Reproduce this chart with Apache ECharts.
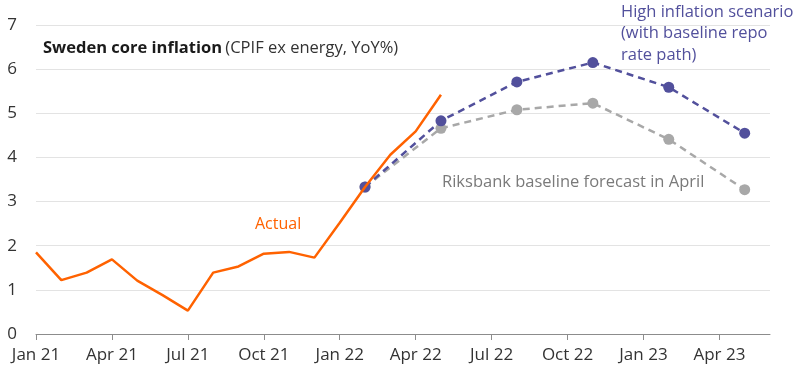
<!DOCTYPE html>
<html><head><meta charset="utf-8">
<script src="https://cdn.jsdelivr.net/npm/echarts@6/dist/echarts.min.js"></script>
<style>html,body{margin:0;padding:0;background:#fff}#c{width:800px;height:368px}</style>
</head><body><div id="c"></div>
<script>
const months = ['Jan 21','Feb 21','Mar 21','Apr 21','May 21','Jun 21','Jul 21','Aug 21','Sep 21','Oct 21','Nov 21','Dec 21',
  'Jan 22','Feb 22','Mar 22','Apr 22','May 22','Jun 22','Jul 22','Aug 22','Sep 22','Oct 22','Nov 22','Dec 22',
  'Jan 23','Feb 23','Mar 23','Apr 23','May 23','Jun 23'];
const actual = [1.85,1.22,1.39,1.69,1.21,0.88,0.53,1.39,1.53,1.82,1.86,1.73,2.52,3.33,4.06,4.59,5.42];
const forecastMonths = ['Feb 22','May 22','Aug 22','Nov 22','Feb 23','May 23'];
const highScenario = [3.33,4.83,5.71,6.15,5.59,4.55];
const baselineForecast = [3.33,4.66,5.08,5.23,4.41,3.27];
const yTicks = [0,1,2,3,4,5,6,7];

function toSeries(vals){
  const out = months.map(()=>null);
  forecastMonths.forEach((m,i)=>{ out[months.indexOf(m)] = vals[i]; });
  return out;
}
const FONT = '"Open Sans", sans-serif';
const chart = echarts.init(document.getElementById('c'));
chart.setOption({
  animation:false,
  textStyle:{fontFamily:FONT},
  grid:{left:36,right:30,top:25,bottom:34},
  xAxis:{type:'category',data:months,boundaryGap:false,
    axisLine:{lineStyle:{color:'#8c8c8c',width:1}},
    axisTick:{interval:2,length:6,lineStyle:{color:'#8c8c8c'}},
    axisLabel:{interval:2,color:'#333',fontSize:17,margin:13,fontFamily:FONT},
    splitLine:{show:false}},
  yAxis:{type:'value',min:yTicks[0],max:yTicks[yTicks.length-1],interval:1,
    axisLine:{show:false},axisTick:{show:false},
    axisLabel:{color:'#333',fontSize:17,margin:19,fontFamily:FONT},
    splitLine:{lineStyle:{color:'#e3e3e3',width:1}}},
  series:[
    {type:'line',data:toSeries(baselineForecast),connectNulls:true,z:2,
      lineStyle:{color:'#a8a8a8',width:2.5,type:[7,5]},itemStyle:{color:'#a8a8a8'},
      symbol:'circle',symbolSize:11,showAllSymbol:true},
    {type:'line',data:toSeries(highScenario),connectNulls:true,z:3,
      lineStyle:{color:'#52509c',width:2.5,type:[7,5]},itemStyle:{color:'#52509c'},
      symbol:'circle',symbolSize:11,showAllSymbol:true},
    {type:'line',data:actual,z:4,symbol:'none',
      lineStyle:{color:'#ff6200',width:2.5}}
  ],
  graphic:[
    {type:'text',left:43,top:40,style:{rich:{b:{fontWeight:'bold',fontSize:16.5,fill:'#1a1a1a',fontFamily:FONT},n:{fontSize:16.5,fill:'#333',fontFamily:FONT}},text:'{b|Sweden core inflation} {n|(CPIF ex energy, YoY%)}'}},
    {type:'text',left:255,top:216,style:{text:'Actual',fontSize:16,fill:'#ff6200',fontFamily:FONT}},
    {type:'text',left:442,top:174,style:{text:'Riksbank baseline forecast in April',fontSize:16.5,fill:'#7a7a7a',fontFamily:FONT}},
    {type:'text',left:621,top:1,style:{text:'High inflation scenario\n(with baseline repo\nrate path)',fontSize:16.5,lineHeight:21.7,fill:'#52509c',fontFamily:FONT}}
  ]
});
</script></body></html>
